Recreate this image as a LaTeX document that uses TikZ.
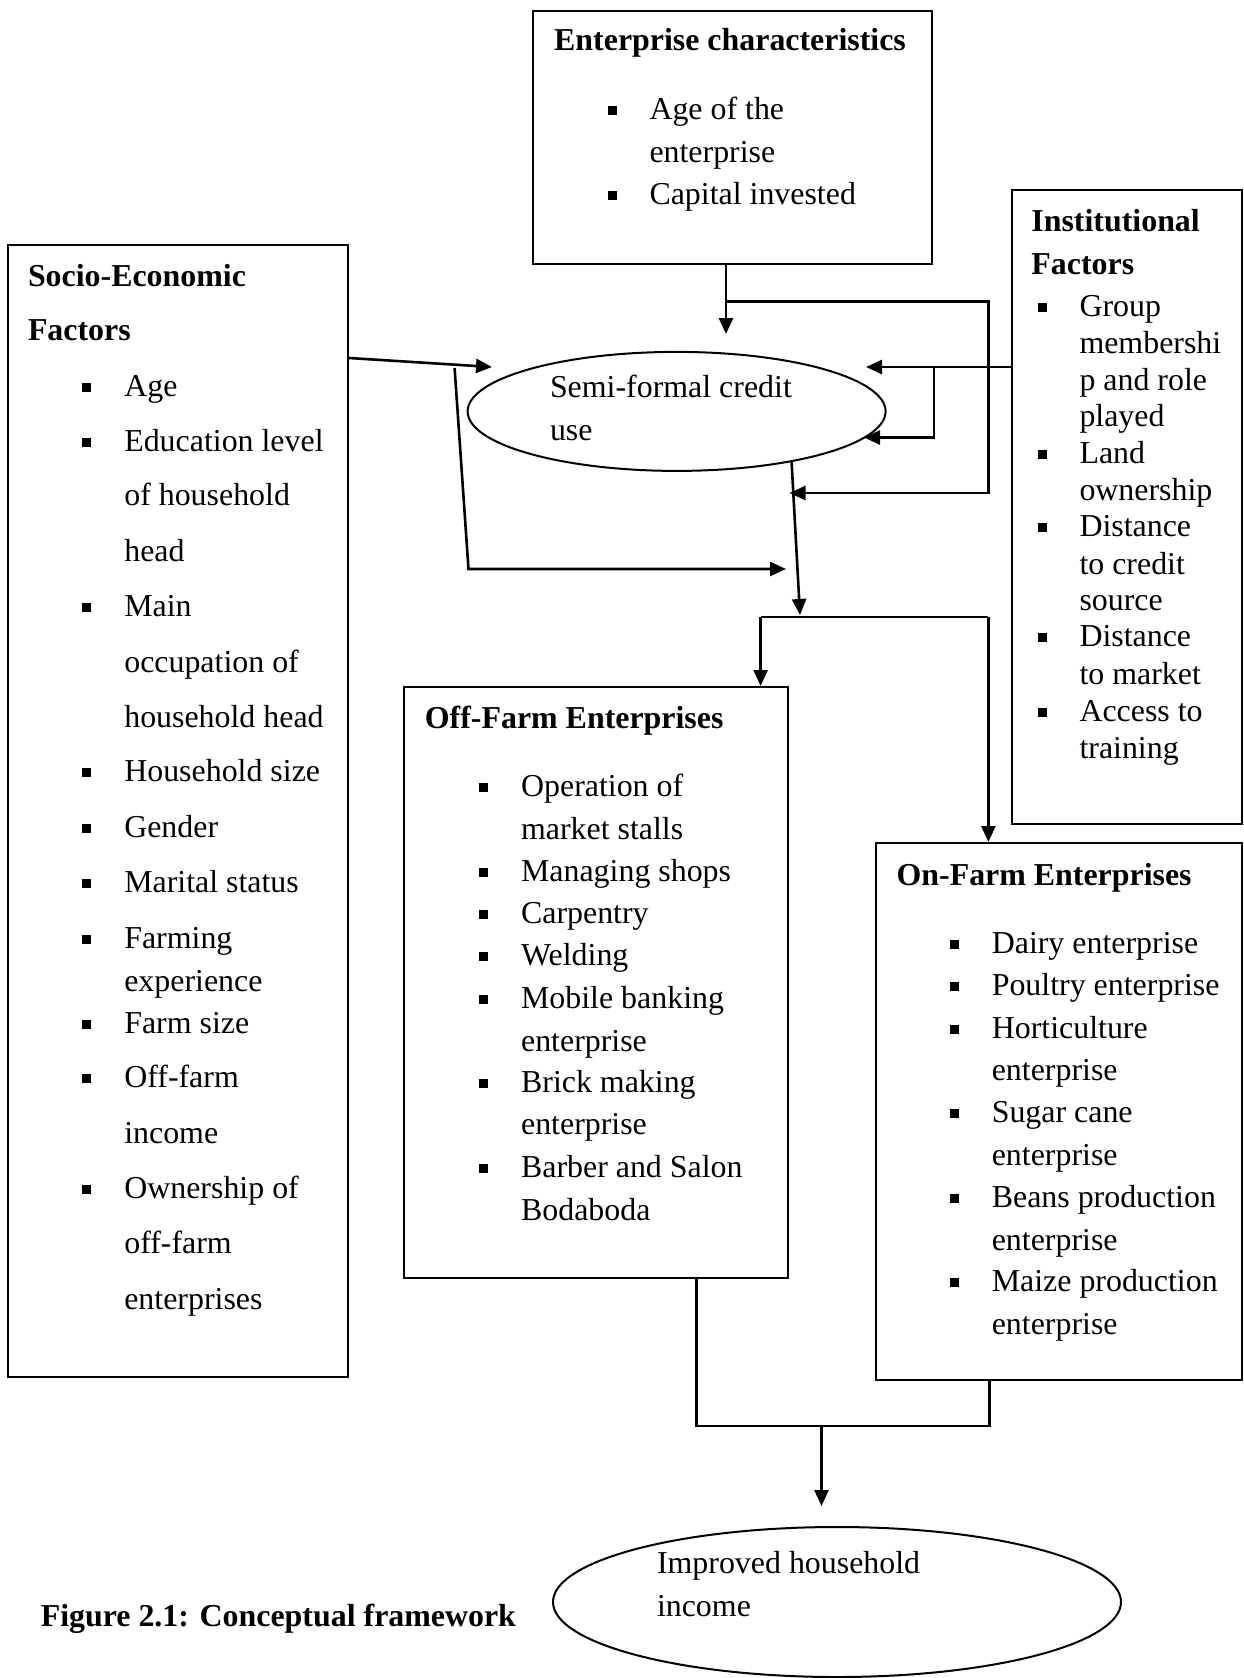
\documentclass[tikz,border=0pt]{standalone}
\usepackage{fontspec}
\setmainfont{Liberation Serif}
\usetikzlibrary{arrows.meta,shapes.geometric}
\newcommand\bl{\llap{\rule[4.5pt]{9pt}{9pt}\hspace{33pt}}}
\begin{document}
\begin{tikzpicture}[x=1pt,y=-1pt,
  box/.style={draw, line width=2pt, rectangle, inner sep=0pt},
  ell/.style={draw, line width=2pt, ellipse, inner sep=0pt},
  txt/.style={anchor=base west, inner sep=0pt, font=\fontsize{31.9}{38}\selectfont},
  ttl/.style={anchor=base west, inner sep=0pt, font=\fontsize{31.9}{38}\selectfont\bfseries},
  conn/.style={line width=2.6pt},
  arr/.style={conn, -{Triangle[length=16pt,width=14pt]}}]
\useasboundingbox (0,0) rectangle (1243,1678);

% boxes and ellipses
\node[box, minimum width=399pt, minimum height=253pt] (ent) at (732.5,137.5) {};
\node[box, minimum width=340.5pt, minimum height=1132pt] (soc) at (177.75,811) {};
\node[box, minimum width=230pt, minimum height=634pt] (inst) at (1127,507) {};
\node[box, minimum width=384pt, minimum height=591pt] (off) at (596,982.5) {};
\node[box, minimum width=366pt, minimum height=537pt] (on) at (1059,1111.5) {};
\node[ell, minimum width=418pt, minimum height=119pt] (semi) at (676.6,411.4) {};
\node[ell, minimum width=568pt, minimum height=150pt] (imp) at (837,1602) {};

% texts: enterprise characteristics
\node[ttl] (entT) at (554,50.6) {Enterprise characteristics};
\foreach[count=\i] \y/\t in {119/{\bl Age of the},162/{enterprise},204/{\bl Capital invested}}
  \node[txt] (ent\i) at (649.3,\y) {\t};

% socio-economic
\node[ttl] (socT1) at (27.8,286) {Socio-Economic};
\node[ttl] (socT2) at (27.8,340.5) {Factors};
\foreach[count=\i] \y/\t in {396/{\bl Age},451/{\bl Education level},505/{of household},561/{head},
  616.5/{\bl Main},672/{occupation of},727/{household head},781/{\bl Household size},
  837/{\bl Gender},892.5/{\bl Marital status},948/{\bl Farming},991/{experience},
  1033/{\bl Farm size},1087/{\bl Off-farm},1143/{income},1198/{\bl Ownership of},
  1253/{off-farm},1309/{enterprises}}
  \node[txt] (soc\i) at (124.1,\y) {\t};

% institutional
\node[ttl] (instT1) at (1031.2,231.4) {Institutional};
\node[ttl] (instT2) at (1031.2,274) {Factors};
\foreach[count=\i] \y/\t in {316/{\bl Group},353/{membershi},390/{p and role},426/{played},
  463.5/{\bl Land},500/{ownership},536/{\bl Distance},574/{to credit},610/{source},
  646.5/{\bl Distance},684/{to market},721/{\bl Access to},758/{training}}
  \node[txt] (inst\i) at (1079.3,\y) {\t};

% semi-formal credit use
\node[txt] (semi1) at (549.8,397) {Semi-formal credit};
\node[txt] (semi2) at (549.8,440) {use};

% off-farm
\node[ttl] (offT) at (424.7,728) {Off-Farm Enterprises};
\foreach[count=\i] \y/\t in {796/{\bl Operation of},839/{market stalls},881/{\bl Managing shops},
  923.5/{\bl Carpentry},965/{\bl Welding},1008/{\bl Mobile banking},1051/{enterprise},
  1092.5/{\bl Brick making},1134/{enterprise},1177/{\bl Barber and Salon},1220/{Bodaboda}}
  \node[txt] (off\i) at (520.9,\y) {\t};

% on-farm
\node[ttl] (onT) at (896.4,885) {On-Farm Enterprises};
\foreach[count=\i] \y/\t in {953.5/{\bl Dairy enterprise},995/{\bl Poultry enterprise},
  1038/{\bl Horticulture},1080/{enterprise},1122.5/{\bl Sugar cane},1165/{enterprise},
  1207/{\bl Beans production},1250/{enterprise},1291.5/{\bl Maize production},1334/{enterprise}}
  \node[txt] (on\i) at (991.6,\y) {\t};

% improved household income
\node[txt] (imp1) at (656.8,1573) {Improved household};
\node[txt] (imp2) at (656.8,1616) {income};

% caption
\node[ttl] (cap) at (40.6,1626) {Figure 2.1: Conceptual framework};

% junction coordinates
\coordinate (jA) at (726,301.7);
\coordinate (tA) at (726,334);
\coordinate (jB) at (988.4,493);
\coordinate (tB) at (789.5,493);
\coordinate (jC) at (934,367);
\coordinate (tC) at (866,367);
\coordinate (jD) at (934,437.5);
\coordinate (tD) at (864,437.5);
\coordinate (sE) at (348,358);
\coordinate (tE) at (492,367);
\coordinate (jF1) at (454.6,368);
\coordinate (jF2) at (468.5,569);
\coordinate (tF) at (786,569);
\coordinate (sG) at (791.6,462);
\coordinate (tG) at (800,615);
\coordinate (hL) at (760.6,617);
\coordinate (hR) at (988.4,617);
\coordinate (iL) at (696.4,1426);
\coordinate (iR) at (989.5,1426);
\coordinate (iM) at (821.5,1426);
\coordinate (tJ) at (821.5,1506);

% connectors
\draw[arr] (ent.south -| jA) -- (tA);
\draw[arr] (jA) -| (jB) -- (tB);
\draw[arr] (inst.west |- jC) -- (tC);
\draw[arr] (jC) -- (jD) -- (tD);
\draw[arr] (soc.east |- sE) -- (tE);
\draw[arr] (jF1) -- (jF2) -- (tF);
\draw[arr] (sG) -- (tG);
\draw[conn] (hL) -- (hR);
\draw[arr] (hL) -- (off.north -| hL);
\draw[arr] (hR) -- (on.north -| hR);
\draw[conn] (off.south -| iL) -- (iL) -- (iR) -- (on.south -| iR);
\draw[arr] (iM) -- (tJ);
\end{tikzpicture}
\end{document}
